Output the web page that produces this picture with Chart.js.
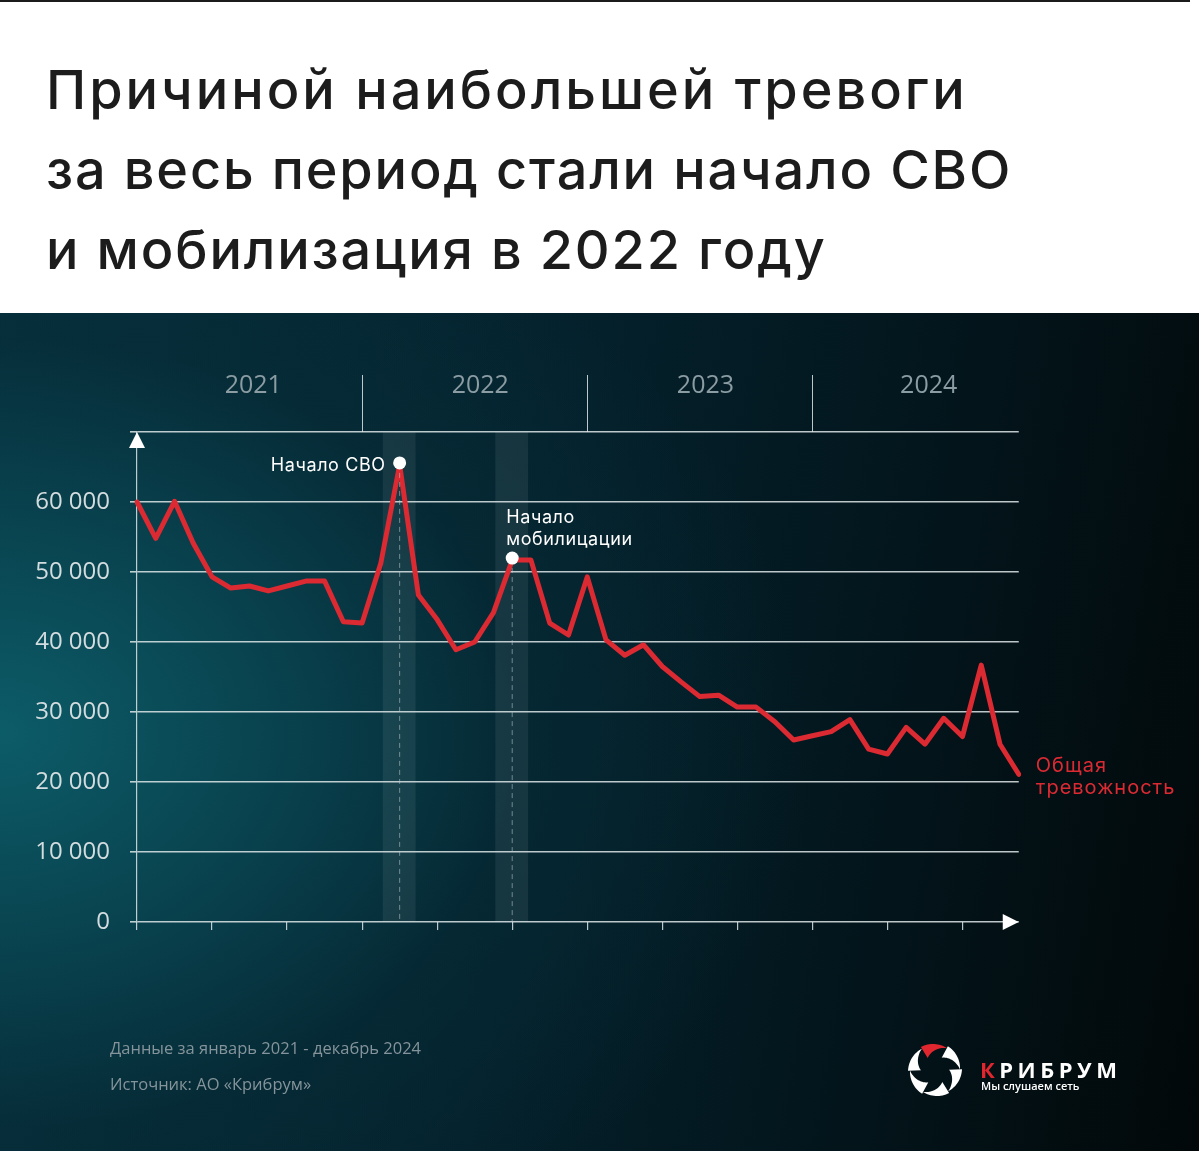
<!DOCTYPE html>
<html lang="ru">
<head>
<meta charset="utf-8">
<script src="https://cdn.jsdelivr.net/npm/chart.js@4.4.1/dist/chart.umd.min.js"></script>
<style>
  html, body { margin: 0; padding: 0; background: #fff; }
  body { width: 1200px; height: 1151px; position: relative; overflow: hidden; font-family: Inter, "Open Sans", sans-serif; }
  .topline { position: absolute; left: 0; top: 0; width: 1190px; height: 2px; background: #1b1b1b; }
  h1 { position: absolute; left: 46px; top: 50px; margin: 0; font-weight: 500; font-size: 54px; line-height: 80px; color: #1c1c1c; letter-spacing: 1.85px; }
  h1 .l1 { letter-spacing: 3px; }
  .panel {
    position: absolute; left: 0; top: 313px; width: 1199px; height: 838px;
    background:
      radial-gradient(ellipse 950px 720px at 0px 420px, rgba(12,92,104,1) 0%, rgba(9,70,82,0.85) 30%, rgba(6,45,56,0.6) 55%, rgba(3,20,26,0) 85%),
      linear-gradient(100deg, #06303e 0%, #04202b 45%, #03141a 75%, #020809 100%);
  }
  #chart { position: absolute; left: 0; top: 0; }
  .note { position: absolute; left: 110px; color: #85949a; font-family: "Open Sans", sans-serif; font-size: 16.5px; }
  #logo { position: absolute; left: 900px; top: 1036px; }
  .brand { position: absolute; left: 980px; top: 1054px; font-family: "Open Sans", sans-serif; font-weight: 700; font-size: 22px; letter-spacing: 4.5px; color: #fff; }
  .brand span { color: #e0262f; }
  .slogan { position: absolute; left: 981px; top: 1078px; font-family: "Open Sans", sans-serif; font-size: 11px; color: #fff; font-weight: 600; }
</style>
</head>
<body>
<div class="topline"></div>
<h1><span class="l1">Причиной наибольшей тревоги</span><br>за весь период стали начало СВО<br>и мобилизация в 2022 году</h1>
<div class="panel"></div>
<canvas id="chart" width="1200" height="1151"></canvas>
<div class="note" style="top:1036px">Данные за январь 2021 - декабрь 2024</div>
<div class="note" style="top:1072px">Источник: АО «Крибрум»</div>
<canvas id="logo" width="70" height="70"></canvas>
<div class="brand"><span>К</span>РИБРУМ</div>
<div class="slogan">Мы слушаем сеть</div>

<script>
// Данные: общая тревожность по месяцам, январь 2021 - декабрь 2024
const years = ["2021", "2022", "2023", "2024"];
const monthNames = ["янв", "фев", "мар", "апр", "май", "июн", "июл", "авг", "сен", "окт", "ноя", "дек"];
const anxiety2021 = [60000, 54800, 60100, 54100, 49300, 47700, 48000, 47300, 48000, 48700, 48700, 42900];
const anxiety2022 = [42700, 51300, 65300, 46700, 43200, 38900, 40000, 44200, 51700, 51700, 42700, 41000];
const anxiety2023 = [49300, 40300, 38100, 39600, 36500, 34300, 32200, 32400, 30700, 30700, 28600, 26000];
const anxiety2024 = [26600, 27200, 28900, 24700, 24000, 27800, 25400, 29100, 26500, 36700, 25400, 21100];
const yTicks = [0, 10000, 20000, 30000, 40000, 50000, 60000, 70000];

// события: индекс месяца и подпись
const eventIndex = [14, 20];
const eventText = [["Начало СВО"], ["Начало", "мобилицации"]];
const seriesName = ["Общая", "тревожность"];

const labels = [];
years.forEach(y => monthNames.forEach(m => labels.push(m + " " + y)));
const values = [...anxiety2021, ...anxiety2022, ...anxiety2023, ...anxiety2024];

const gridColor = "rgba(222,230,232,0.85)";
const red = "#dc2a33";

// Оформление: полосы, шкала лет, стрелки, подписи
const decor = {
    id: "decor",
    beforeDraw(chart) {
        const { ctx, chartArea, scales: { x } } = chart;
        ctx.save();
        ctx.fillStyle = "rgba(255,255,255,0.07)";
        eventIndex.forEach(i => {
            const a = x.getPixelForValue(i - 0.9);
            const b = x.getPixelForValue(i + 0.85);
            ctx.fillRect(a, chartArea.top, b - a, chartArea.bottom - chartArea.top);
        });
        ctx.restore();
    },
    afterDatasetsDraw(chart) {
        const { ctx, chartArea } = chart;
        const meta = chart.getDatasetMeta(0);
        ctx.save();
        // пунктир от точки события
        eventIndex.forEach(i => {
            const p = meta.data[i];
            ctx.strokeStyle = "rgba(190,205,210,0.55)";
            ctx.lineWidth = 1;
            ctx.setLineDash([5, 4]);
            ctx.beginPath();
            ctx.moveTo(p.x, p.y + 8);
            ctx.lineTo(p.x, chartArea.bottom);
            ctx.stroke();
        });
        ctx.setLineDash([]);
        eventIndex.forEach(i => {
            const p = meta.data[i];
            ctx.fillStyle = "#fff";
            ctx.beginPath();
            ctx.arc(p.x, p.y - 2, 6.5, 0, Math.PI * 2);
            ctx.fill();
        });
        // подписи событий
        ctx.font = "400 18px Inter, 'Open Sans', sans-serif";
        ctx.letterSpacing = "0.6px";
        ctx.fillStyle = "#fff";
        ctx.textBaseline = "middle";
        const p0 = meta.data[eventIndex[0]];
        ctx.textAlign = "right";
        ctx.fillText(eventText[0][0], p0.x - 14, p0.y + 1);
        const p1 = meta.data[eventIndex[1]];
        ctx.textAlign = "left";
        eventText[1].forEach((t, k) => ctx.fillText(t, p1.x - 6, p1.y - 43 + k * 22));
        // подпись серии
        const last = meta.data[meta.data.length - 1];
        ctx.fillStyle = red;
        ctx.font = "400 20px Inter, 'Open Sans', sans-serif";
        ctx.letterSpacing = "1px";
        seriesName.forEach((t, k) => ctx.fillText(t, last.x + 17, last.y - 8 + k * 22));
        ctx.restore();
    },
    afterDraw(chart) {
        const { ctx, chartArea, scales: { x } } = chart;
        ctx.save();
        // шапка с годами
        ctx.strokeStyle = gridColor;
        ctx.lineWidth = 1;
        for (let k = 1; k < years.length; k++) {
            const px = Math.round(x.getPixelForValue(k * 12)) + 0.5;
            ctx.beginPath();
            ctx.moveTo(px, chartArea.top - 57);
            ctx.lineTo(px, chartArea.top);
            ctx.stroke();
        }
        ctx.fillStyle = "#8b9ca3";
        ctx.font = "25px 'Liberation Sans Narrow', 'Open Sans', sans-serif";
        ctx.textAlign = "center";
        ctx.textBaseline = "middle";
        const yearPos = [6.2, 18.3, 30.3, 42.2];
        years.forEach((y, k) => ctx.fillText(y, x.getPixelForValue(yearPos[k]), chartArea.top - 46));
        // стрелки осей
        ctx.fillStyle = "#fff";
        ctx.beginPath();
        ctx.moveTo(chartArea.left, chartArea.top);
        ctx.lineTo(chartArea.left - 8, chartArea.top + 16);
        ctx.lineTo(chartArea.left + 8, chartArea.top + 16);
        ctx.closePath();
        ctx.fill();
        ctx.beginPath();
        ctx.moveTo(chartArea.right, chartArea.bottom);
        ctx.lineTo(chartArea.right - 16, chartArea.bottom - 8);
        ctx.lineTo(chartArea.right - 16, chartArea.bottom + 8);
        ctx.closePath();
        ctx.fill();
        ctx.restore();
    }
};

new Chart(document.getElementById("chart"), {
    type: "line",
    data: {
        labels: labels,
        datasets: [{
            label: "Общая тревожность",
            data: values,
            borderColor: red,
            borderWidth: 5,
            borderJoinStyle: "round",
            borderCapStyle: "round",
            pointRadius: 0,
            tension: 0
        }]
    },
    options: {
        responsive: false,
        animation: false,
        layout: { padding: { left: 0, top: 432, right: 181.25, bottom: 0 } },
        plugins: { legend: { display: false }, tooltip: { enabled: false } },
        scales: {
            x: {
                offset: false,
                grid: {
                    drawOnChartArea: false,
                    tickLength: 8,
                    lineWidth: 1.2,
                    color: c => (c.index % 4 === 0 ? gridColor : "transparent")
                },
                border: { display: false },
                ticks: { display: false, autoSkip: false },
                afterFit: s => { s.height = 229; }
            },
            y: {
                min: 0,
                max: 70000,
                afterBuildTicks: s => { s.ticks = yTicks.map(v => ({ value: v })); },
                grid: { color: gridColor, lineWidth: 1.6, tickLength: 7 },
                border: { display: true, color: gridColor, width: 1.2 },
                ticks: {
                    padding: 20,
                    color: "#d3dcdf",
                    font: { family: "'Open Sans', sans-serif", size: 24 },
                    callback: v => (v === 70000 ? "" : v === 0 ? "0" : (v / 1000) + " 000")
                },
                afterFit: s => { s.width = 137; }
            }
        }
    },
    plugins: [decor]
});

// Логотип
(function () {
    const c = document.getElementById("logo").getContext("2d");
    const cx = 35, cy = 34;
    for (let k = 0; k < 6; k++) {
        const base = -Math.PI / 2 - 0.55 + k * Math.PI / 3;
        c.fillStyle = k === 0 ? "#e0262f" : "#fff";
        c.beginPath();
        const n = 16;
        for (let j = 0; j <= n; j++) {
            const t = j / n;
            const a = base + t * 1.05;
            const r = 27 - t * 2;
            const px = cx + Math.cos(a) * r, py = cy + Math.sin(a) * r;
            j === 0 ? c.moveTo(px, py) : c.lineTo(px, py);
        }
        for (let j = n; j >= 0; j--) {
            const t = j / n;
            const a = base + t * 1.05;
            const r = 14 + t * 11;
            c.lineTo(cx + Math.cos(a) * r, cy + Math.sin(a) * r);
        }
        c.closePath();
        c.fill();
    }
})();
</script>
</body>
</html>
